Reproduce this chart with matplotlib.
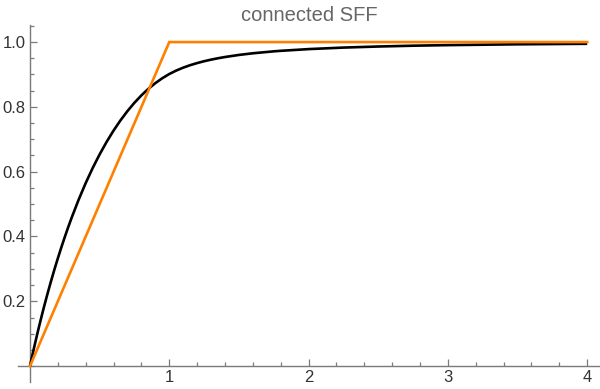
import matplotlib

matplotlib.use("Agg")
import matplotlib.pyplot as plt  # noqa: E402
from matplotlib.ticker import FixedLocator, MultipleLocator  # noqa: E402

# values
black_x = [0.0, 0.01, 0.025, 0.05, 0.075, 0.1, 0.125, 0.15, 0.175, 0.2, 0.225,
           0.25, 0.275, 0.3, 0.35, 0.4, 0.45, 0.5, 0.55, 0.6, 0.65, 0.7, 0.75,
           0.8, 0.85, 0.9, 0.95, 1.0, 1.05, 1.1, 1.15, 1.2, 1.25, 1.3, 1.35,
           1.4, 1.5, 1.6, 1.75, 1.8, 2.0, 2.25, 2.5, 2.75, 3.0, 3.5, 4.0]
black_y = [0.0, 0.0198, 0.0488, 0.0952, 0.1395, 0.1818, 0.2221, 0.2606,
           0.2975, 0.3327, 0.3664, 0.3986, 0.4295, 0.459, 0.5143, 0.5649,
           0.6112, 0.6534, 0.6919, 0.7269, 0.7586, 0.7872, 0.8128, 0.8356,
           0.8557, 0.8733, 0.8885, 0.9014, 0.9121, 0.9211, 0.9287, 0.9352,
           0.9409, 0.9458, 0.9501, 0.9539, 0.9603, 0.9654, 0.9714, 0.973,
           0.9783, 0.983, 0.9863, 0.9888, 0.9906, 0.9931, 0.9947]
orange_x = [0.0, 1.0, 4.0]
orange_y = [0.0, 1.0, 1.0]

x_ticks = [1, 2, 3, 4]
y_ticks = [0.2, 0.4, 0.6, 0.8, 1.0]

axis_grey = "#7a7a7a"
label_grey = "#333333"

plt.rcParams["font.family"] = ["Liberation Sans", "DejaVu Sans"]

fig = plt.figure(figsize=(6.0, 3.89), dpi=100)
ax = fig.add_axes([0.03, 0.018, 0.97, 0.918])

ax.plot(black_x, black_y, color="black", lw=1.9, solid_capstyle="butt",
        solid_joinstyle="round", zorder=3)
ax.plot(orange_x, orange_y, color="#ff8000", lw=1.9, solid_joinstyle="miter",
        zorder=4)

ax.set_xlim(-0.086, 4.092)
ax.set_ylim(-0.049, 1.053)

for side in ("top", "right"):
    ax.spines[side].set_visible(False)
ax.spines["left"].set_position(("data", 0))
ax.spines["bottom"].set_position(("data", 0))
for side in ("left", "bottom"):
    ax.spines[side].set_color(axis_grey)
    ax.spines[side].set_linewidth(1.0)

ax.xaxis.set_major_locator(FixedLocator(x_ticks))
ax.xaxis.set_minor_locator(MultipleLocator(0.2))
ax.yaxis.set_major_locator(FixedLocator(y_ticks))
ax.yaxis.set_minor_locator(MultipleLocator(0.05))
ax.set_xticklabels([str(t) for t in x_ticks])
ax.set_yticklabels([f"{t:.1f}" for t in y_ticks])

ax.tick_params(which="both", direction="in", color=axis_grey, width=0.9,
               labelcolor=label_grey, labelsize=12)
ax.tick_params(which="major", length=5, pad=3)
ax.tick_params(which="minor", length=3)

ax.set_title("connected SFF", color="#666666", fontsize=14.5, pad=3)

fig.savefig("out.png", dpi=100)
